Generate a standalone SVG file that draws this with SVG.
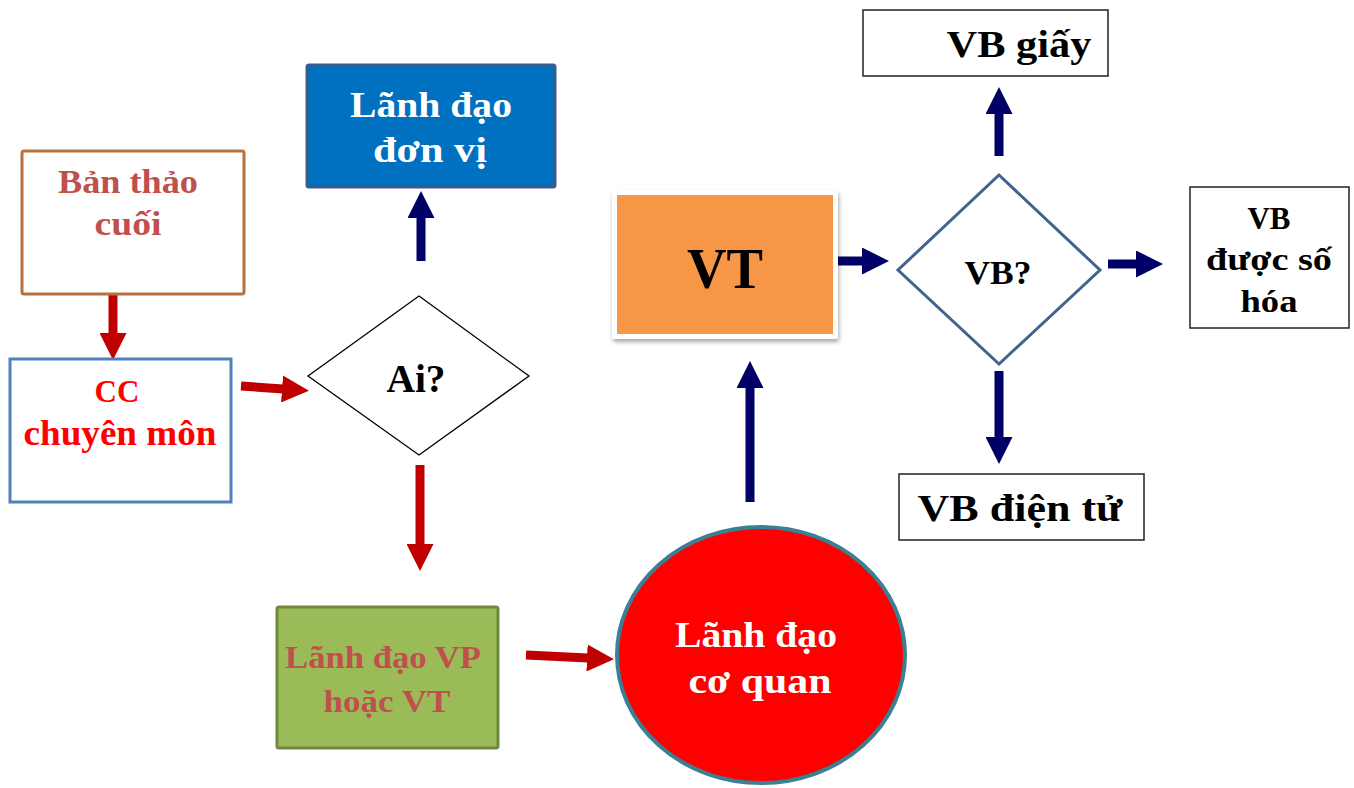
<svg xmlns="http://www.w3.org/2000/svg" width="1354" height="788" viewBox="0 0 1354 788">
<style>
  text { font-family: "Liberation Serif", "DejaVu Serif", serif; font-weight: bold; text-anchor: middle; }
  .red-shaft { stroke: #C00000; stroke-width: 9; fill: none; }
  .navy-shaft { stroke: #000066; stroke-width: 9; fill: none; }
  .wbox { fill: #FFFFFF; stroke: #222222; stroke-width: 1.5; }
</style>
<defs>
  <marker id="headRed" markerUnits="userSpaceOnUse" markerWidth="27" markerHeight="27" viewBox="0 0 27 27" refX="1" refY="13.5" orient="auto">
    <path d="M0,0 L27,13.5 L0,27 Z" fill="#C00000"/>
  </marker>
  <marker id="headNavy" markerUnits="userSpaceOnUse" markerWidth="27" markerHeight="27" viewBox="0 0 27 27" refX="1" refY="13.5" orient="auto">
    <path d="M0,0 L27,13.5 L0,27 Z" fill="#000066"/>
  </marker>
  <filter id="shadow" x="-10%" y="-10%" width="120%" height="130%">
    <feDropShadow dx="1" dy="3" stdDeviation="2" flood-color="#000000" flood-opacity="0.35"/>
  </filter>
</defs>

<g id="connectors">
  <line class="red-shaft" x1="113" y1="294" x2="113" y2="334" marker-end="url(#headRed)"/>
  <line class="red-shaft" x1="241" y1="386" x2="283" y2="389" marker-end="url(#headRed)"/>
  <line class="red-shaft" x1="420" y1="465" x2="420" y2="545" marker-end="url(#headRed)"/>
  <line class="red-shaft" x1="526" y1="655" x2="588" y2="658" marker-end="url(#headRed)"/>
  <line class="navy-shaft" x1="421" y1="261" x2="421" y2="217" marker-end="url(#headNavy)"/>
  <line class="navy-shaft" x1="750" y1="502" x2="750" y2="387" marker-end="url(#headNavy)"/>
  <line class="navy-shaft" x1="835" y1="261" x2="863" y2="261" marker-end="url(#headNavy)"/>
  <line class="navy-shaft" x1="999" y1="156" x2="999" y2="113" marker-end="url(#headNavy)"/>
  <line class="navy-shaft" x1="1108" y1="264" x2="1137" y2="264" marker-end="url(#headNavy)"/>
  <line class="navy-shaft" x1="999" y1="371" x2="999" y2="438" marker-end="url(#headNavy)"/>
</g>

<g id="ban-thao-cuoi">
  <rect x="22" y="151" width="222" height="143" rx="2" fill="#FFFFFF" stroke="#B9703B" stroke-width="3"/>
  <text x="128" y="193" font-size="34" fill="#C0504D" textLength="140" lengthAdjust="spacingAndGlyphs">Bản thảo</text>
  <text x="128" y="235" font-size="34" fill="#C0504D" textLength="67" lengthAdjust="spacingAndGlyphs">cuối</text>
</g>

<g id="cc-chuyen-mon">
  <rect x="10" y="359" width="221" height="143" fill="#FFFFFF" stroke="#4F81BD" stroke-width="3"/>
  <text x="117" y="402" font-size="31" fill="#FF0000">CC</text>
  <text x="120" y="445" font-size="35" fill="#FF0000" textLength="193" lengthAdjust="spacingAndGlyphs">chuyên môn</text>
</g>

<g id="lanh-dao-don-vi">
  <rect x="307" y="65" width="248" height="122" rx="2" fill="#0070C0" stroke="#385D8A" stroke-width="3"/>
  <text x="431" y="117" font-size="35" fill="#FFFFFF" textLength="162" lengthAdjust="spacingAndGlyphs">Lãnh đạo</text>
  <text x="430" y="162" font-size="35" fill="#FFFFFF" textLength="114" lengthAdjust="spacingAndGlyphs">đơn vị</text>
</g>

<g id="ai">
  <polygon points="419,296 529,376 419,455 308,376" fill="#FFFFFF" stroke="#000000" stroke-width="1.3"/>
  <text x="416" y="392" font-size="40" fill="#000000" textLength="59" lengthAdjust="spacingAndGlyphs">Ai?</text>
</g>

<g id="lanh-dao-vp">
  <rect x="277" y="607" width="221" height="141" rx="2" fill="#9BBB59" stroke="#71893F" stroke-width="3"/>
  <text x="383" y="668" font-size="32" fill="#C0504D" textLength="196" lengthAdjust="spacingAndGlyphs">Lãnh đạo VP</text>
  <text x="387" y="712" font-size="32" fill="#C0504D" textLength="127" lengthAdjust="spacingAndGlyphs">hoặc VT</text>
</g>

<g id="lanh-dao-co-quan">
  <ellipse cx="761" cy="655" rx="144" ry="128" fill="#FF0000" stroke="#3A8094" stroke-width="4"/>
  <text x="756" y="647" font-size="36" fill="#FFFFFF" textLength="162" lengthAdjust="spacingAndGlyphs">Lãnh đạo</text>
  <text x="760" y="693" font-size="36" fill="#FFFFFF" textLength="143" lengthAdjust="spacingAndGlyphs">cơ quan</text>
</g>

<g id="vt">
  <rect x="612" y="190" width="226" height="149" rx="3" fill="#FFFFFF" filter="url(#shadow)"/>
  <rect x="617" y="195" width="216" height="139" fill="#F79646"/>
  <text x="725" y="288" font-size="58" fill="#000000" textLength="76" lengthAdjust="spacingAndGlyphs">VT</text>
</g>

<g id="vb-question">
  <polygon points="999,175 1100,270 999,364 898,270" fill="#FFFFFF" stroke="#41638F" stroke-width="3"/>
  <text x="998" y="284" font-size="33" fill="#000000" textLength="67" lengthAdjust="spacingAndGlyphs">VB?</text>
</g>

<g id="vb-giay">
  <rect class="wbox" x="863" y="10" width="245" height="66"/>
  <text x="1019" y="57" font-size="37" fill="#000000" textLength="145" lengthAdjust="spacingAndGlyphs">VB giấy</text>
</g>

<g id="vb-so-hoa">
  <rect class="wbox" x="1190" y="187" width="159" height="141"/>
  <text x="1269" y="229" font-size="31" fill="#000000" textLength="43" lengthAdjust="spacingAndGlyphs">VB</text>
  <text x="1269" y="270" font-size="31" fill="#000000" textLength="126" lengthAdjust="spacingAndGlyphs">được số</text>
  <text x="1269" y="312" font-size="31" fill="#000000" textLength="57" lengthAdjust="spacingAndGlyphs">hóa</text>
</g>

<g id="vb-dien-tu">
  <rect class="wbox" x="899" y="474" width="245" height="66"/>
  <text x="1020" y="521" font-size="37" fill="#000000" textLength="205" lengthAdjust="spacingAndGlyphs">VB điện tử</text>
</g>
</svg>
